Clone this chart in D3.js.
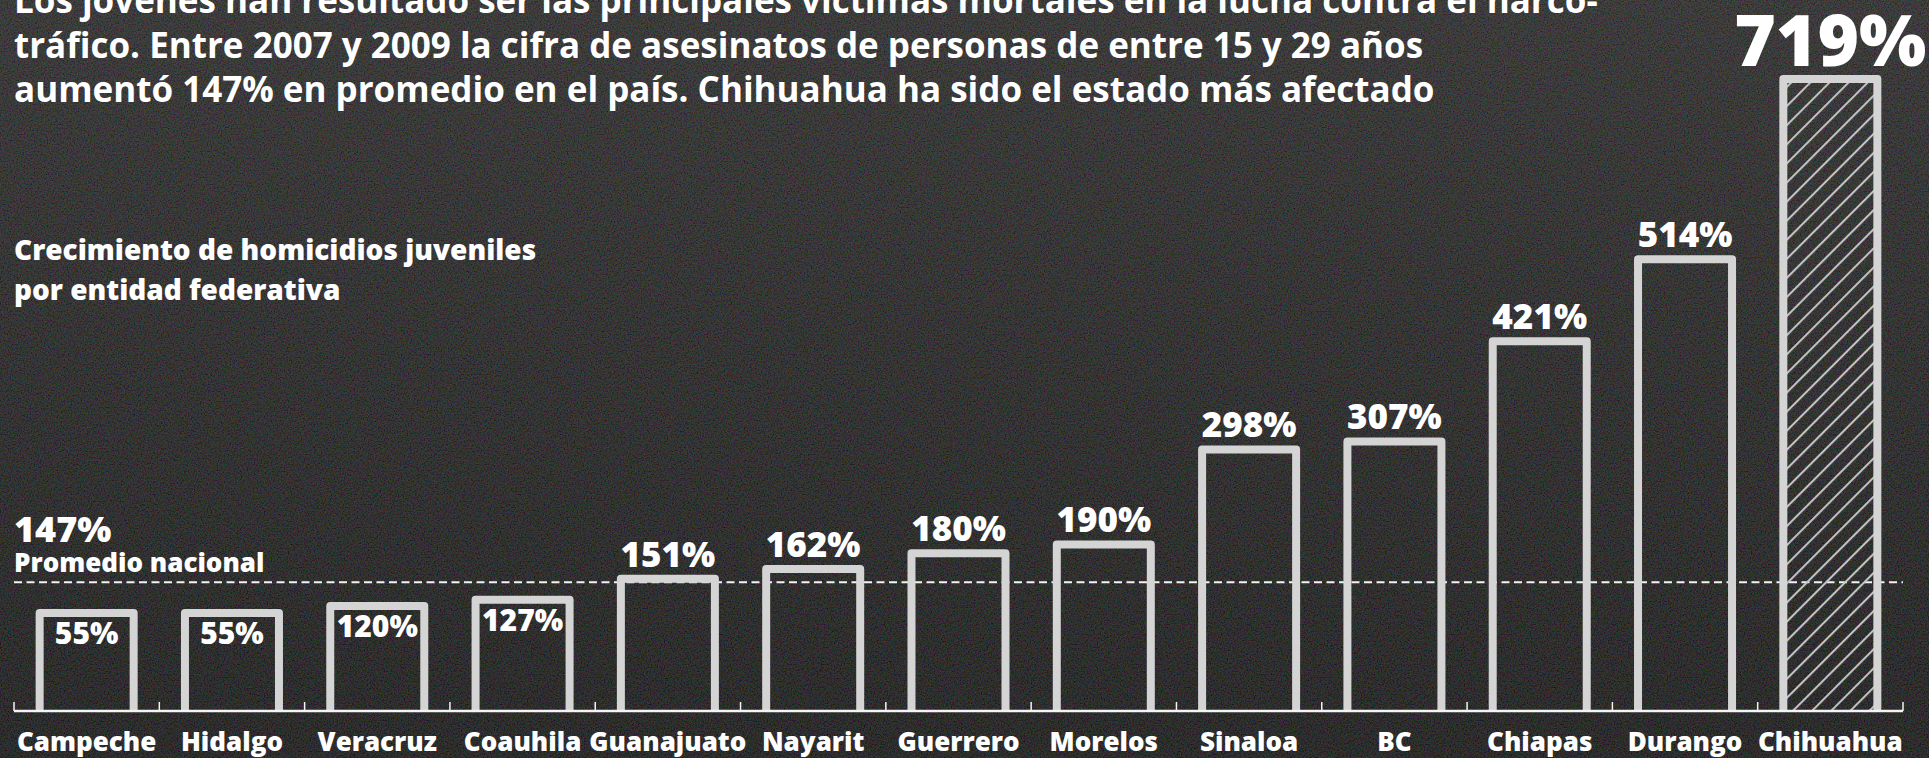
<!DOCTYPE html>
<html>
<head>
<meta charset="utf-8">
<script src="https://cdn.jsdelivr.net/npm/d3@7"></script>
<style>
  html, body { margin: 0; padding: 0; background: #222; overflow: hidden; }
  svg { display: block; }
</style>
</head>
<body>
<div id="chart"></div>
<script>
// datos
const estados = ["Campeche", "Hidalgo", "Veracruz", "Coauhila", "Guanajuato", "Nayarit",
  "Guerrero", "Morelos", "Sinaloa", "BC", "Chiapas", "Durango", "Chihuahua"];
const crecimiento = [55, 55, 120, 127, 151, 162, 180, 190, 298, 307, 421, 514, 719];
const promedioNacional = 147;
const destacado = "Chihuahua";

const titulo = [
  "Los jóvenes han resultado ser las principales víctimas mortales en la lucha contra el narco-",
  "tráfico. Entre 2007 y 2009 la cifra de asesinatos de personas de entre 15 y 29 años",
  "aumentó 147% en promedio en el país. Chihuahua ha sido el estado más afectado"
];
const subtitulo = ["Crecimiento de homicidios juveniles", "por entidad federativa"];

const width = 1929, height = 758;
const baseline = 711;
const labelFont = "'Open Sans', 'Noto Sans', sans-serif";
const barColor = "#d4d4d4";

const svg = d3.select("#chart").append("svg")
  .attr("width", width)
  .attr("height", height);

const defs = svg.append("defs");

const grad = defs.append("linearGradient")
  .attr("id", "fondo").attr("x1", 0).attr("y1", 0).attr("x2", 0).attr("y2", 1);
grad.append("stop").attr("offset", "0%").attr("stop-color", "#2e2d2d");
grad.append("stop").attr("offset", "100%").attr("stop-color", "#1a1a1a");

// ruido de la textura
const noise = defs.append("filter").attr("id", "ruido")
  .attr("x", 0).attr("y", 0).attr("width", "100%").attr("height", "100%");
noise.append("feTurbulence")
  .attr("type", "fractalNoise")
  .attr("baseFrequency", 0.7)
  .attr("numOctaves", 2)
  .attr("seed", 4);
noise.append("feColorMatrix")
  .attr("type", "matrix")
  .attr("values", "1.6 0 0 0 -0.55  0 1.5 0 0 -0.5  0 0 1.6 0 -0.55  0 0 0 0 0.3");

const hatch = defs.append("pattern")
  .attr("id", "rayas")
  .attr("patternUnits", "userSpaceOnUse")
  .attr("width", 13.5).attr("height", 13.5)
  .attr("patternTransform", "rotate(45)");
hatch.append("line")
  .attr("x1", 2).attr("y1", 0).attr("x2", 2).attr("y2", 13.5)
  .attr("stroke", "#c6c6c6").attr("stroke-width", 2);

svg.append("rect").attr("width", width).attr("height", height).attr("fill", "url(#fondo)");
svg.append("rect").attr("width", width).attr("height", height)
  .attr("filter", "url(#ruido)").attr("opacity", 0.6);

// escalas
const x = d3.scaleBand()
  .domain(estados)
  .range([14, 1903])
  .paddingInner(0.353)
  .paddingOuter(0.1765);

// la gráfica original no está a escala en las barras pequeñas
const y = d3.scaleLinear()
  .domain([0, 55, 120, 719])
  .range([baseline, 613, 606, 79]);

const data = estados.map((e, i) => ({ estado: e, valor: crecimiento[i] }));

// título
const head = svg.append("text")
  .attr("fill", "#fff")
  .style("font-family", labelFont)
  .style("font-weight", 700)
  .style("font-size", "35px");
head.selectAll("tspan").data(titulo).enter().append("tspan")
  .attr("x", 14)
  .attr("y", (d, i) => 13 + i * 44.5)
  .text(d => d);

const sub = svg.append("text")
  .attr("fill", "#fff")
  .style("font-family", labelFont)
  .style("font-weight", 800)
  .style("font-size", "28px");
sub.selectAll("tspan").data(subtitulo).enter().append("tspan")
  .attr("x", 14)
  .attr("y", (d, i) => 260 + i * 40)
  .text(d => d);

// promedio nacional
svg.append("line")
  .attr("x1", 14).attr("x2", 1903)
  .attr("y1", y(promedioNacional)).attr("y2", y(promedioNacional))
  .attr("stroke", "#f2f2f2")
  .attr("stroke-width", 2)
  .attr("stroke-dasharray", "8,4.5");

svg.append("text")
  .attr("x", 14).attr("y", 542)
  .attr("fill", "#fff")
  .style("font-family", labelFont)
  .style("font-weight", 800)
  .style("font-size", "36px")
  .text(promedioNacional + "%");

svg.append("text")
  .attr("x", 14).attr("y", 572)
  .attr("fill", "#fff")
  .style("font-family", labelFont)
  .style("font-weight", 800)
  .style("font-size", "26px")
  .text("Promedio nacional");

// barras
const sw = 8;
const bars = svg.append("g");

bars.selectAll(".relleno")
  .data(data.filter(d => d.estado === destacado))
  .enter().append("rect")
  .attr("class", "relleno")
  .attr("x", d => x(d.estado))
  .attr("y", d => y(d.valor))
  .attr("width", x.bandwidth())
  .attr("height", d => baseline - y(d.valor))
  .attr("fill", "url(#rayas)");

bars.selectAll(".barra")
  .data(data)
  .enter().append("path")
  .attr("class", "barra")
  .attr("d", d => {
    const x0 = x(d.estado), x1 = x0 + x.bandwidth(), top = y(d.valor);
    return `M${x0},${baseline}V${top}H${x1}V${baseline}`;
  })
  .attr("fill", "none")
  .attr("stroke", barColor)
  .attr("stroke-width", sw)
  .attr("stroke-linejoin", "round");

// etiquetas de valor
svg.append("g").selectAll("text")
  .data(data)
  .enter().append("text")
  .attr("x", d => x(d.estado) + x.bandwidth() / 2)
  .attr("y", d => {
    if (d.valor < promedioNacional) return y(d.valor) + 31;
    if (d.estado === destacado) return y(d.valor) - 13;
    return y(d.valor) - 12;
  })
  .attr("text-anchor", "middle")
  .attr("fill", "#fff")
  .style("font-family", labelFont)
  .style("font-weight", 800)
  .style("font-size", d => d.estado === destacado ? "71px" : d.valor < promedioNacional ? "30px" : "35px")
  .text(d => d.valor + "%");

// eje
const axis = svg.append("g");
axis.append("line")
  .attr("x1", x.range()[0]).attr("x2", x.range()[1])
  .attr("y1", baseline).attr("y2", baseline)
  .attr("stroke", "#f4f4f4").attr("stroke-width", 2.5);

const bordes = d3.range(estados.length + 1).map(i => x.range()[0] + i * x.step());
axis.selectAll(".tick")
  .data(bordes)
  .enter().append("line")
  .attr("class", "tick")
  .attr("x1", d => d).attr("x2", d => d)
  .attr("y1", baseline).attr("y2", baseline - 9)
  .attr("stroke", "#f4f4f4").attr("stroke-width", 1.5);

axis.selectAll(".cat")
  .data(estados)
  .enter().append("text")
  .attr("class", "cat")
  .attr("x", d => x(d) + x.bandwidth() / 2)
  .attr("y", 751)
  .attr("text-anchor", "middle")
  .attr("fill", "#fff")
  .style("font-family", labelFont)
  .style("font-weight", 800)
  .style("font-size", "26px")
  .text(d => d);
</script>
</body>
</html>
